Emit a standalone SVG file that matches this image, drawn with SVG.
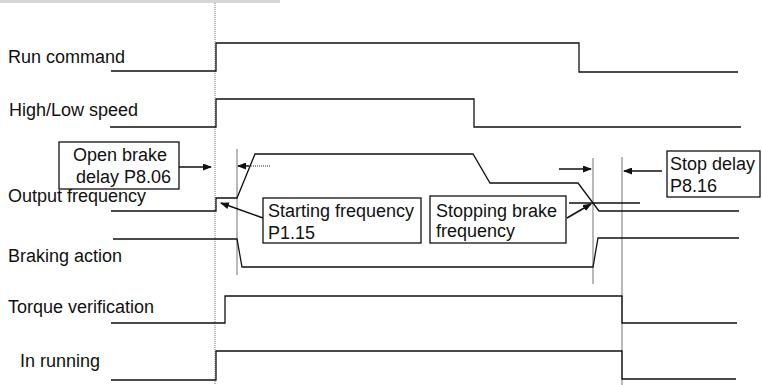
<svg xmlns="http://www.w3.org/2000/svg" width="762" height="385" viewBox="0 0 762 385">
<style>
text{font-family:"Liberation Sans",Arial,sans-serif;font-size:18px;fill:#111}
.w{fill:none;stroke:#111;stroke-width:1.3}
.g{fill:none;stroke:#8a8a8a;stroke-width:1.2}
.box{fill:#fff;stroke:#111;stroke-width:1.3}
.c{fill:none;stroke:#111;stroke-width:1.5}
</style>
<defs>
<marker id="ah" markerUnits="userSpaceOnUse" markerWidth="9" markerHeight="7" refX="8" refY="3.5" orient="auto">
<path d="M0,0 L9,3.5 L0,7 z" fill="#111"/>
</marker>
</defs>
<rect x="0" y="0" width="280" height="3" fill="#d6d6d6"/>
<line x1="215" y1="3" x2="215" y2="385" stroke="#777" stroke-width="1" stroke-dasharray="1,1"/>
<g id="guides">
<line class="g" x1="237" y1="149" x2="237" y2="275"/>
<line class="g" x1="593" y1="158" x2="593" y2="284"/>
<line class="g" x1="622" y1="157" x2="622" y2="385"/>
</g>
<g id="labels">
<text x="8" y="63">Run command</text>
<text x="9" y="116">High/Low speed</text>
<text x="8" y="202">Output frequency</text>
<text x="8" y="262">Braking action</text>
<text x="8" y="313">Torque verification</text>
<text x="20" y="367">In running</text>
</g>
<g id="waveforms">
<polyline id="run" class="w" points="111,71 216,71 216,43 579,43 579,72 738,72"/>
<polyline id="speed" class="w" points="110,127 216,127 216,99 474,99 474,127 741,127"/>
<polyline id="freq" class="w" points="111,211 216,211 216,198 237,198 255,154 473,154 490,183 578,183 599,211 739,211"/>
<line class="w" x1="569" y1="203" x2="640" y2="203"/>
<polyline id="brake" class="w" points="113,239 237,239 242,267 593,267 598,238 739,238"/>
<polyline id="torque" class="w" points="111,323 225,323 225,296 622,296 622,323 737,323"/>
<polyline id="running" class="w" points="111,380 216,380 216,351 622,351 622,379 736,379"/>
</g>
<g id="connectors">
<line class="c" x1="179" y1="167" x2="211" y2="167" marker-end="url(#ah)"/>
<line class="c" x1="249" y1="166" x2="238" y2="166" marker-end="url(#ah)"/>
<line x1="249" y1="166" x2="271" y2="166" stroke="#333" stroke-width="1" stroke-dasharray="1,1"/>
<line class="c" x1="263" y1="218" x2="221" y2="203" marker-end="url(#ah)"/>
<line class="c" x1="567" y1="218" x2="591" y2="204" marker-end="url(#ah)"/>
<line class="c" x1="559" y1="169" x2="591" y2="169" marker-end="url(#ah)"/>
<line class="c" x1="662" y1="171" x2="624" y2="171" marker-end="url(#ah)"/>
</g>
<g id="open-brake-delay">
<rect class="box" x="59" y="142" width="120" height="47"/>
<text x="73" y="161">Open brake</text>
<text x="76" y="183">delay P8.06</text>
</g>
<g id="starting-frequency">
<rect class="box" x="263" y="198" width="158" height="45"/>
<text x="268" y="217">Starting frequency</text>
<text x="268" y="239">P1.15</text>
</g>
<g id="stopping-brake-frequency">
<rect class="box" x="430" y="196" width="136" height="47"/>
<text x="436" y="217">Stopping brake</text>
<text x="436" y="237">frequency</text>
</g>
<g id="stop-delay">
<rect class="box" x="667" y="151" width="93" height="46"/>
<text x="670" y="170">Stop delay</text>
<text x="670" y="192">P8.16</text>
</g>
</svg>
